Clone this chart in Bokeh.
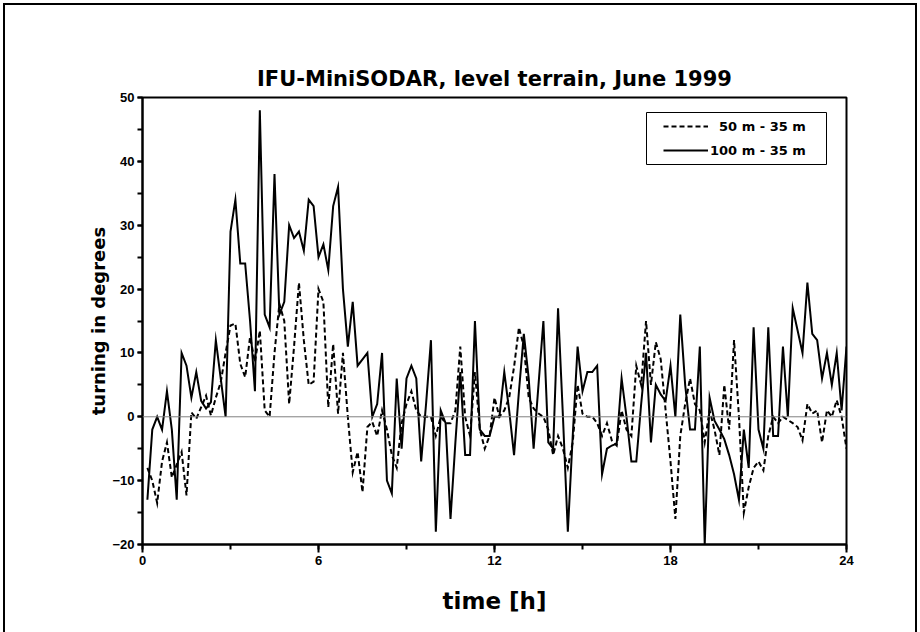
from bokeh.plotting import figure
from bokeh.models import (Range1d, SingleIntervalTicker, Span, Legend, LegendItem,
                          BoxAnnotation)
from bokeh.embed import file_html
from bokeh.resources import INLINE

title_text = "IFU-MiniSODAR, level terrain, June 1999"
x_label = "time [h]"
y_label = "turning in degrees"
series_names = ["50 m - 35 m", "100 m - 35 m"]

# 10-minute sampling over one day
minutes = list(range(10, 1441, 10))
time_h = [m / 60 for m in minutes]

turn_100 = [
    -13, -2, 0, -2, 4, -2, -13, 10, 8, 3,
    7, 2.5, 1.3, 2.3, 12, 6, 0, 29, 34, 24,
    24, 15, 4, 48, 16, 14, 38, 16, 18, 30,
    28, 29, 26, 34, 33, 25, 27, 23, 33, 36,
    20, 11, 18, 8, 9, 10, 0, 2, 10, -10,
    -12, 6, -5, 6, 8, 6, -7, 2, 12, -18,
    1, -1, -16, -4, 7, -6, -6, 15, -2, -3,
    -3, 0, 0, 7, 1, -6, 4, 13, 6, -5,
    5, 15, -4, -5, 17, 0, -18, -3, 11, 4,
    7, 7, 8, -9, -5, -4.5, -4.2, 6, 0, -7,
    -7, 2, 10, -4, 5, 3.5, 2.5, 8, 0, 16,
    5, -2, -2, 11, -20, 3, -0.6, -2, -3.5, -6,
    -9, -13, -2, -8, 14, -2, -5, 14, -3, -3,
    11, 0, 17, 13.5, 10, 21, 13, 12, 6, 10,
    5, 10, 1, 11]

turn_50 = [
    -8, -10, -13.5, -7, -4, -9.5, -7.5, -5.5, -12.3, 0.7,
    -0.3, 1.5, 3.3, 0.2, 3, 5.4, 10, 14.3, 14.6, 8.3,
    6.2, 12.5, 8.6, 13.5, 1, 0, 10, 17.7, 15, 2,
    11, 21, 12, 5, 5.5, 20, 18, 1.5, 11.4, 0.5,
    10, 0, -8.7, -5.5, -11.8, -1.6, -0.8, -3, 1, -2,
    -6, -8, -1, 2, 4, 1, 0, 0, 0, -3,
    0, -1, -1, 1, 11, 0, -3, 7, -2, -5,
    -3, 3, 0, 1, 3, 7.8, 14, 11, 3, 1.3,
    0.5, 0, -2, -6, -3, -5, -8, -4, 5, 0.5,
    0, 0, -1, -3, -1, -3.7, -4.5, 1, -2, -3,
    8, 5, 15, 5, 11.7, 9, 1, -7, -16, -3,
    2, 6, 2, 1, -4, 1, -2, -6, 5, -2,
    12, 0, -15, -11, -8, -7, -8.4, -3, 0, -1,
    0, -0.5, -1, -1.6, -3.7, 2, 0.5, 1, -4, 1,
    0, 2.6, 0, -5]

x_start, x_end, x_step = 0, 24, 6
y_start, y_end, y_step = -20, 50, 10

p = figure(width=910, height=627, output_backend="svg", toolbar_location=None,
           x_range=Range1d(x_start, x_end), y_range=Range1d(y_start, y_end),
           min_border_left=137, min_border_right=69, min_border_top=92,
           min_border_bottom=88, title=title_text)
p.styles = {"margin-left": "5px", "margin-top": "5px",
            "outline": "2px solid black", "outline-offset": "0px"}
p.background_fill_color = "white"
p.border_fill_color = "white"
p.xgrid.visible = False
p.ygrid.visible = False
p.outline_line_color = "black"
p.outline_line_width = 2
p.outline_line_alpha = 1

p.title.align = "center"
p.title.text_font = "DejaVu Sans"
p.title.text_font_style = "bold"
p.title.text_font_size = "21px"
p.title.text_color = "black"
p.title.standoff = 13

p.xaxis.ticker = SingleIntervalTicker(interval=x_step, num_minor_ticks=2)
p.yaxis.ticker = SingleIntervalTicker(interval=y_step, num_minor_ticks=2)
for ax in (p.xaxis[0], p.yaxis[0]):
    ax.axis_line_width = 2
    ax.axis_line_color = "black"
    ax.major_tick_line_width = 2
    ax.minor_tick_line_width = 2
    ax.major_tick_line_color = "black"
    ax.minor_tick_line_color = "black"
    ax.major_tick_in = 0
    ax.minor_tick_in = 0
    ax.major_label_text_font = "Liberation Sans"
    ax.major_label_text_font_style = "bold"
    ax.major_label_text_font_size = "13px"
    ax.major_label_text_color = "black"
    ax.axis_label_text_font = "DejaVu Sans"
    ax.axis_label_text_font_style = "bold"
    ax.axis_label_text_color = "black"

p.xaxis.axis_label = x_label
p.yaxis.axis_label = y_label
p.xaxis.major_tick_out = 8
p.xaxis.minor_tick_out = 5
p.yaxis.major_tick_out = 5
p.yaxis.minor_tick_out = 5
p.xaxis.major_label_standoff = 3
p.yaxis.major_label_standoff = 3
p.xaxis.axis_label_text_font_size = "23px"
p.yaxis.axis_label_text_font_size = "18px"
p.xaxis.axis_label_standoff = 20
p.yaxis.axis_label_standoff = 0

p.add_layout(Span(location=0, dimension="width", line_color="#808080", line_width=1))

r50 = p.line(time_h, turn_50, line_color="black", line_width=2, line_dash="5 3",
             line_join="miter")
r100 = p.line(time_h, turn_100, line_color="black", line_width=2, line_join="miter")

pad = "\u00a0\u00a0"
legend = Legend(items=[LegendItem(label=pad + series_names[0], renderers=[r50]),
                       LegendItem(label=series_names[1], renderers=[r100])],
                location=(519, 380), padding=2, spacing=0, margin=0,
                glyph_width=45, glyph_height=24, label_height=24, label_standoff=2,
                border_line_alpha=0, background_fill_alpha=0,
                label_text_font="DejaVu Sans", label_text_font_style="bold",
                label_text_font_size="13px", label_text_color="black")
p.add_layout(legend)

p.add_layout(BoxAnnotation(left=504, right=684, bottom=380, top=432,
                           left_units="screen", right_units="screen",
                           bottom_units="screen", top_units="screen",
                           fill_alpha=0, line_color="black", line_width=1,
                           line_alpha=1))

open("out.html", "w").write(file_html(p, INLINE))
